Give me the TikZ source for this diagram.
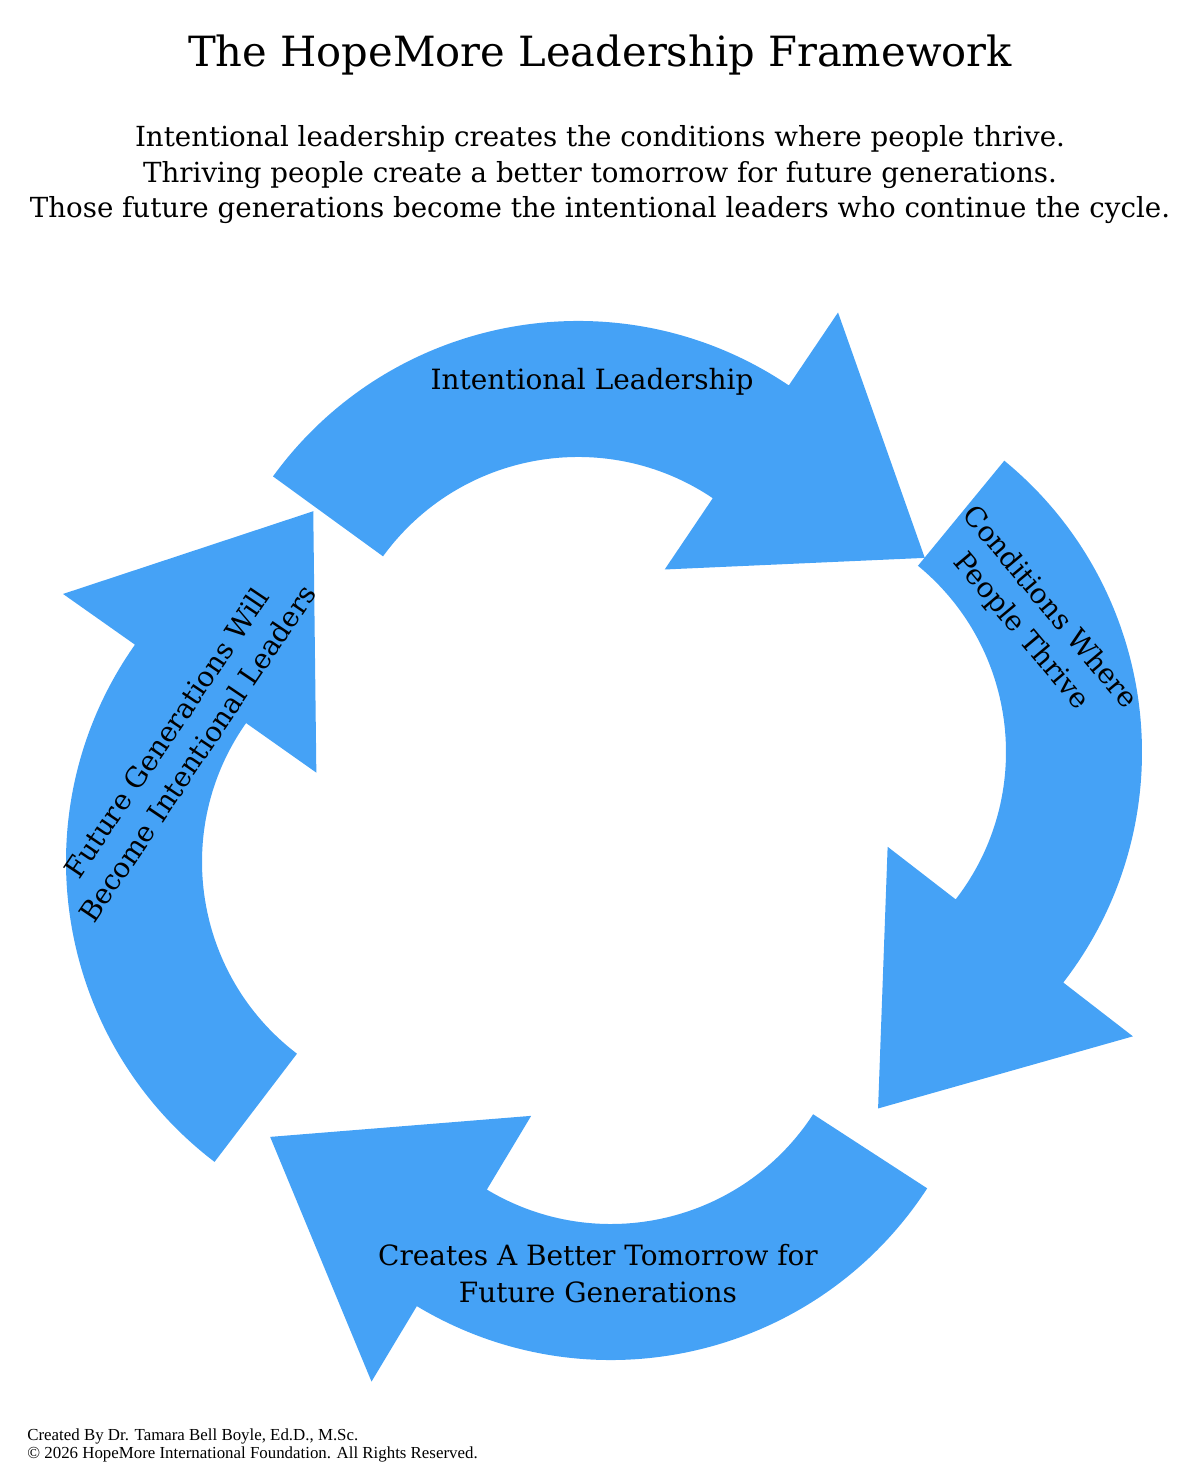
\documentclass[tikz,border=0pt]{standalone}
\usepackage{fontspec}
\setmainfont{DejaVu Serif}
\newfontfamily\creditfont{Liberation Serif}
\usepackage{tikz}

\definecolor{hopeblue}{RGB}{69,162,246}

\tikzset{
	band/.style={fill=hopeblue, draw=none},
	headline/.style={font=\fontsize{23.7}{28}\selectfont, anchor=base, inner sep=0pt},
	subline/.style={font=\fontsize{15.75}{21}\selectfont, anchor=base, inner sep=0pt},
	bandlabel/.style={font=\fontsize{15.9}{21}\selectfont, align=center, inner sep=0pt},
	creditline/.style={font=\creditfont\fontsize{9.6}{10.5}\selectfont, anchor=base west, inner sep=0pt}
}

% curved arrow: centre, tail angle, head angle, tip angle
\newcommand{\loopArrow}[4]{
	\begin{scope}[shift={#1}]
		\fill[band] (#2:377) arc[start angle=#2, end angle=#3, radius=377] -- (#3:465) -- (#4:374) -- (#3:155) -- (#3:241) arc[start angle=#3, end angle=#2, radius=241] -- cycle;
	\end{scope}
}

\begin{document}
\begin{tikzpicture}[x=0.02cm, y=0.02cm]
				\useasboundingbox (0, 0) rectangle (1201, 1481);
				% the four arrows of the cycle
				\loopArrow{(578, 783)}{144}{56}{22}
				\loopArrow{(765, 729)}{50.6}{-37.7}{-72.4}
				\loopArrow{(611, 498)}{-33}{-121}{-155.7}
				\loopArrow{(443, 619)}{232.7}{144.8}{110.3}
				% heading
				\node[headline] (title) at (600, 1414) {The HopeMore Leadership Framework};
				\node[subline] (sub1) at (600, 1334) {Intentional leadership creates the conditions where people thrive.};
				\node[subline] (sub2) at (600, 1298) {Thriving people create a better tomorrow for future generations.};
				\node[subline] (sub3) at (600, 1263) {Those future generations become the intentional leaders who continue the cycle.};
				% labels on the arrows
				\node[subline, font=\fontsize{15.9}{21}\selectfont] (lead) at (592, 1091) {Intentional Leadership};
				\node[bandlabel, rotate=-50] (thrive) at (1035, 861) {Conditions Where\\People Thrive};
				\node[bandlabel] (tomorrow) at (598, 207) {Creates A Better Tomorrow for\\Future Generations};
				\node[bandlabel, rotate=56] (leaders) at (182, 738) {Future Generations Will\\Become Intentional Leaders};
				% credits
				\node[creditline] (credit1) at (27, 40) {Created By Dr. Tamara Bell Boyle, Ed.D., M.Sc.};
				\node[creditline] (credit2) at (27, 22) {\textcopyright{} 2026 HopeMore International Foundation. All Rights Reserved.};
			\end{tikzpicture}
\end{document}
